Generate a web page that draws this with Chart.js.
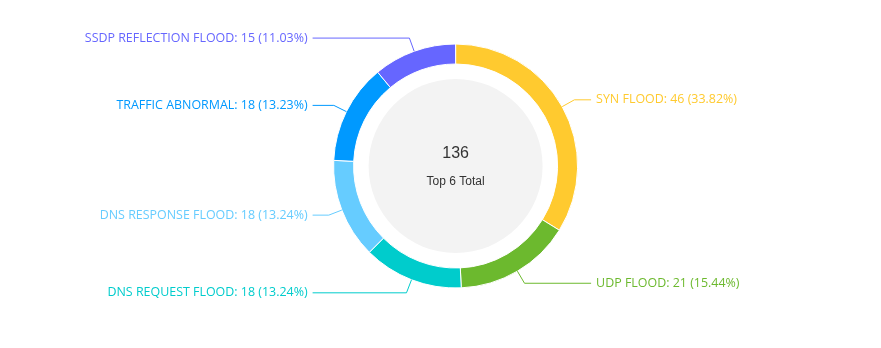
<!DOCTYPE html>
<html>
<head>
<meta charset="utf-8">
<script src="https://cdn.jsdelivr.net/npm/chart.js@4.4.1/dist/chart.umd.min.js"></script>
<style>
  html, body { margin: 0; padding: 0; background: #fff; }
  #wrap { width: 881px; height: 348px; position: relative; }
</style>
</head>
<body>
<div id="wrap"><canvas id="c" width="881" height="348"></canvas></div>
<script>
const categories = ['SYN FLOOD', 'UDP FLOOD', 'DNS REQUEST FLOOD', 'DNS RESPONSE FLOOD', 'TRAFFIC ABNORMAL', 'SSDP REFLECTION FLOOD'];
const values = [46, 21, 18, 18, 18, 15];
const colors = ['#ffca2f', '#6cb92e', '#00cccc', '#66ccff', '#0099ff', '#6666ff'];
const centerTitle = 'Top 6 Total';

// largest remainder percentages (2 decimals)
function percents(vals, precision) {
  const sum = vals.reduce((a, b) => a + b, 0);
  const digits = Math.pow(10, precision);
  const vote = vals.map(v => v / sum * digits * 100);
  const target = digits * 100;
  const seats = vote.map(v => Math.floor(v));
  let cur = seats.reduce((a, b) => a + b, 0);
  const rem = vote.map((v, i) => v - seats[i]);
  while (cur < target) {
    let max = -Infinity, idx = -1;
    for (let i = 0; i < rem.length; i++) if (rem[i] > max) { max = rem[i]; idx = i; }
    seats[idx]++; rem[idx] = 0; cur++;
  }
  return seats.map(s => (s / digits).toFixed(precision));
}
const pcts = percents(values, 2);
const total = values.reduce((a, b) => a + b, 0);

const LABEL_FONT = '12.45px "Open Sans", sans-serif';

const labelPlugin = {
  id: 'pieLabels',
  beforeDatasetsDraw(chart) {
    const arc = chart.getDatasetMeta(0).data[0];
    if (!arc) return;
    const ctx = chart.ctx;
    const p = arc.getProps(['x', 'y', 'innerRadius'], true);
    ctx.save();
    ctx.fillStyle = '#f3f3f3';
    ctx.beginPath();
    ctx.arc(p.x, p.y, p.innerRadius * 0.853, 0, Math.PI * 2);
    ctx.fill();
    ctx.restore();
  },
  afterDatasetsDraw(chart) {
    const meta = chart.getDatasetMeta(0);
    const ctx = chart.ctx;
    ctx.save();
    meta.data.forEach((el, i) => {
      const p = el.getProps(['x', 'y', 'startAngle', 'endAngle', 'outerRadius'], true);
      const mid = (p.startAngle + p.endAngle) / 2;
      const cos = Math.cos(mid), sin = Math.sin(mid);
      const x0 = p.x + cos * p.outerRadius, y0 = p.y + sin * p.outerRadius;
      const x1 = p.x + cos * (p.outerRadius + 14), y1 = p.y + sin * (p.outerRadius + 14);
      const right = cos >= 0;
      const x2 = right ? p.x + p.outerRadius + 13.5 : p.x - p.outerRadius - 21;
      ctx.strokeStyle = colors[i];
      ctx.lineWidth = 1;
      ctx.beginPath();
      ctx.moveTo(x0, y0);
      ctx.lineTo(x1, y1);
      ctx.lineTo(x2, y1);
      ctx.stroke();
      ctx.fillStyle = colors[i];
      ctx.font = LABEL_FONT;
      ctx.textBaseline = 'middle';
      ctx.textAlign = right ? 'left' : 'right';
      const txt = categories[i] + ': ' + values[i] + ' (' + pcts[i] + '%)';
      ctx.fillText(txt, right ? x2 + 5 : x2 - 5, y1);
    });
    // center text
    const p = meta.data[0].getProps(['x', 'y'], true);
    ctx.fillStyle = '#333';
    ctx.textAlign = 'center';
    ctx.textBaseline = 'middle';
    ctx.font = '16px "Liberation Sans", Arial, sans-serif';
    ctx.fillText(String(total), p.x, p.y - 12.5);
    ctx.font = '12px "Liberation Sans", Arial, sans-serif';
    ctx.fillText(centerTitle, p.x, p.y + 16);
    ctx.restore();
  }
};

new Chart(document.getElementById('c'), {
  type: 'doughnut',
  data: {
    labels: categories,
    datasets: [{
      data: values,
      backgroundColor: colors,
      borderColor: '#ffffff',
      borderWidth: 1,
      hoverOffset: 0
    }]
  },
  options: {
    responsive: false,
    animation: false,
    cutout: '83.6%',
    layout: { padding: { top: 43.5, bottom: 59.5, left: 333.1, right: 302.9 } },
    plugins: { legend: { display: false }, tooltip: { enabled: false } },
    events: []
  },
  plugins: [labelPlugin]
});
</script>
</body>
</html>
